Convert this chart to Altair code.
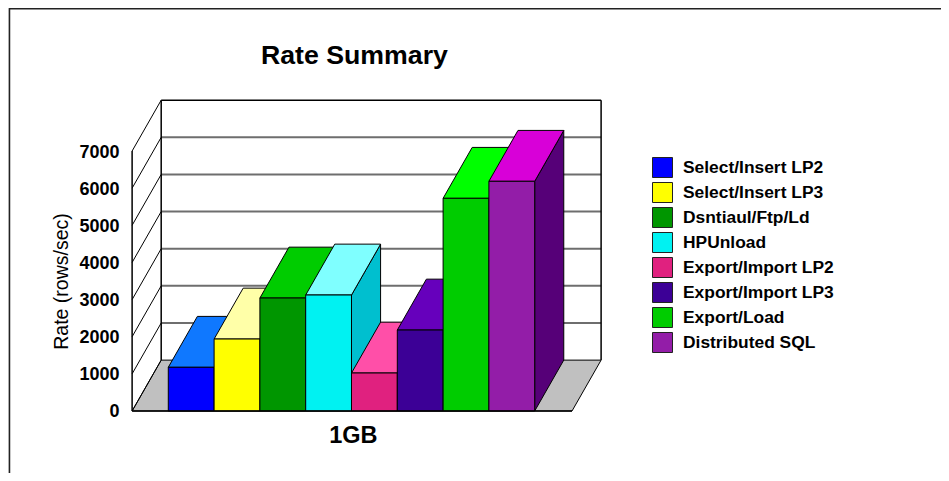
import altair as alt
import pandas as pd

METHODS = ["Select/Insert LP2", "Select/Insert LP3", "Dsntiaul/Ftp/Ld", "HPUnload",
           "Export/Import LP2", "Export/Import LP3", "Export/Load", "Distributed SQL"]
RATES = [1177, 1938, 3042, 3123, 1023, 2180, 5727, 6185]
FRONT_COLORS = ["#0000FF", "#FFFF00", "#009600", "#00F2F2", "#E0217F", "#3C0096", "#00CC00", "#931DA8"]
TOP_COLORS = ["#0F78FF", "#FFFFA8", "#00CC00", "#7FFFFF", "#FF4FA8", "#6600BC", "#00FF00", "#D800D8"]
SIDE_COLORS = ["#0A50B0", "#BFBF70", "#007000", "#00BFCF", "#A01860", "#2A0070", "#009900", "#560078"]
TICKS = [0, 1000, 2000, 3000, 4000, 5000, 6000, 7000]
FONT = "Liberation Sans"

# shared 3-D depth of the plot, in data units
DX = 0.635
DY = 1370
LEFT, RIGHT = -0.79, 8.815

W, H = 933, 465
x_scale = alt.Scale(domain=[-3.4999, 16.8712], nice=False, zero=False)
y_scale = alt.Scale(domain=[-1669.4, 10851], nice=False, zero=False)

x_axis = alt.Axis(values=[4.03], labelExpr="'1GB'", orient="bottom", offset=-62, domain=False,
                  ticks=False, grid=False, title=None, labelFont=FONT, labelFontWeight="bold",
                  labelFontSize=23.5, labelPadding=12, labelColor="black")
y_axis = alt.Axis(values=TICKS, orient="left", offset=-115, domain=False, ticks=False, grid=False,
                  format="d", labelFont=FONT, labelFontWeight="bold", labelFontSize=18, labelOffset=1,
                  labelPadding=4, labelColor="black", title="Rate (rows/sec)",
                  titleFont=FONT, titleFontWeight="normal", titleFontSize=19.5, titleColor="black",
                  titleX=-52, titleY=273)


def X(f, **k):
    return alt.X(f, type="quantitative", scale=x_scale, axis=x_axis, **k)


def Y(f, **k):
    return alt.Y(f, type="quantitative", scale=y_scale, axis=y_axis, **k)


bars = pd.DataFrame({"method": METHODS, "rate": RATES, "x0": range(8)})
bars["x1"] = bars.x0 + 1
bars["base"] = 0

top_rows, side_rows = [], []
for _, b in bars.iterrows():
    for t in (0, 1):
        top_rows.append({"method": b.method, "y": b.rate + t * DY,
                         "xa": b.x0 + t * DX, "xb": b.x1 + t * DX})
        side_rows.append({"method": b.method, "x": b.x1 + t * DX,
                          "ya": t * DY, "yb": b.rate + t * DY})
tops = pd.DataFrame(top_rows)
sides = pd.DataFrame(side_rows)

floor = pd.DataFrame([{"y": t * DY, "xa": LEFT + t * DX, "xb": RIGHT + t * DX, "k": "floor"} for t in (0, 1)])
diag = pd.DataFrame({"xa": LEFT, "xb": LEFT + DX, "ya": TICKS, "yb": [v + DY for v in TICKS]})
grid = pd.DataFrame({"xa": LEFT + DX, "xb": RIGHT + DX, "y": [v + DY for v in TICKS[1:-1]]})
frame = pd.DataFrame([
    {"xa": LEFT, "xb": LEFT, "ya": 0, "yb": TICKS[-1]},
    {"xa": LEFT + DX, "xb": LEFT + DX, "ya": DY, "yb": TICKS[-1] + DY},
    {"xa": RIGHT + DX, "xb": RIGHT + DX, "ya": DY, "yb": TICKS[-1] + DY},
    {"xa": LEFT + DX, "xb": RIGHT + DX, "ya": TICKS[-1] + DY, "yb": TICKS[-1] + DY},
])
base_line = pd.DataFrame([{"xa": LEFT, "xb": RIGHT, "ya": 0, "yb": 0}])

page_top = alt.Chart(pd.DataFrame({"a": [0]})).mark_rule(color="#222222", strokeWidth=1.5).encode(
    x=alt.value(1.5), x2=alt.value(W), y=alt.value(0.8))
page_left = alt.Chart(pd.DataFrame({"a": [0]})).mark_rule(color="#222222", strokeWidth=1.5).encode(
    x=alt.value(1.5), y=alt.value(0), y2=alt.value(H))

grid_l = alt.Chart(grid).mark_rule(color="#6E6E6E", strokeWidth=2).encode(x=X("xa"), x2="xb", y=Y("y"))
diag_l = alt.Chart(diag).mark_rule(color="black", strokeWidth=1).encode(x=X("xa"), x2="xb", y=Y("ya"), y2="yb")
frame_l = alt.Chart(frame).mark_rule(color="black", strokeWidth=1.5).encode(x=X("xa"), x2="xb", y=Y("ya"), y2="yb")
floor_l = alt.Chart(floor).mark_area(orient="horizontal", color="#C0C0C0", stroke="black", strokeWidth=1).encode(
    y=Y("y"), x=X("xa", stack=None), x2="xb", detail="k:N")

side_l = alt.Chart(sides).mark_area(stroke="black", strokeWidth=1, orient="vertical").encode(
    x=X("x"), y=Y("ya", stack=None), y2="yb",
    color=alt.Color("method:N", scale=alt.Scale(domain=METHODS, range=SIDE_COLORS), legend=None),
    detail="method:N")
top_l = alt.Chart(tops).mark_area(stroke="black", strokeWidth=1, orient="horizontal").encode(
    y=Y("y"), x=X("xa", stack=None), x2="xb",
    color=alt.Color("method:N", scale=alt.Scale(domain=METHODS, range=TOP_COLORS), legend=None),
    detail="method:N")
front_l = alt.Chart(bars).mark_rect(stroke="black", strokeWidth=1).encode(
    x=X("x0"), x2="x1", y=Y("base"), y2="rate",
    color=alt.Color("method:N", scale=alt.Scale(domain=METHODS, range=FRONT_COLORS), legend=alt.Legend(
        title=None, orient="none", legendX=644, legendY=149, symbolType="square", symbolSize=400,
        symbolStrokeColor="#222222", symbolStrokeWidth=1, rowPadding=0, labelFont=FONT, labelFontWeight="bold",
        labelFontSize=17.4, labelColor="black", labelOffset=10, values=METHODS)))
base_l = alt.Chart(base_line).mark_rule(color="black", strokeWidth=1.5).encode(x=X("xa"), x2="xb", y=Y("ya"))

chart = alt.layer(
    page_top, page_left, floor_l, grid_l, diag_l, frame_l, side_l, top_l, front_l, base_l
).resolve_scale(color="independent").properties(
    width=W, height=H, padding=0, autosize=alt.AutoSizeParams(type="none"),
    title=alt.TitleParams("Rate Summary", anchor="start", frame="group", orient="top", offset=0, dx=253, dy=83,
                          font=FONT, fontWeight="bold", fontSize=26.7, color="black", baseline="alphabetic"),
).configure_view(stroke=None).configure(background="white")

chart.save("out.html", embed_options={"renderer": "svg", "actions": False})
